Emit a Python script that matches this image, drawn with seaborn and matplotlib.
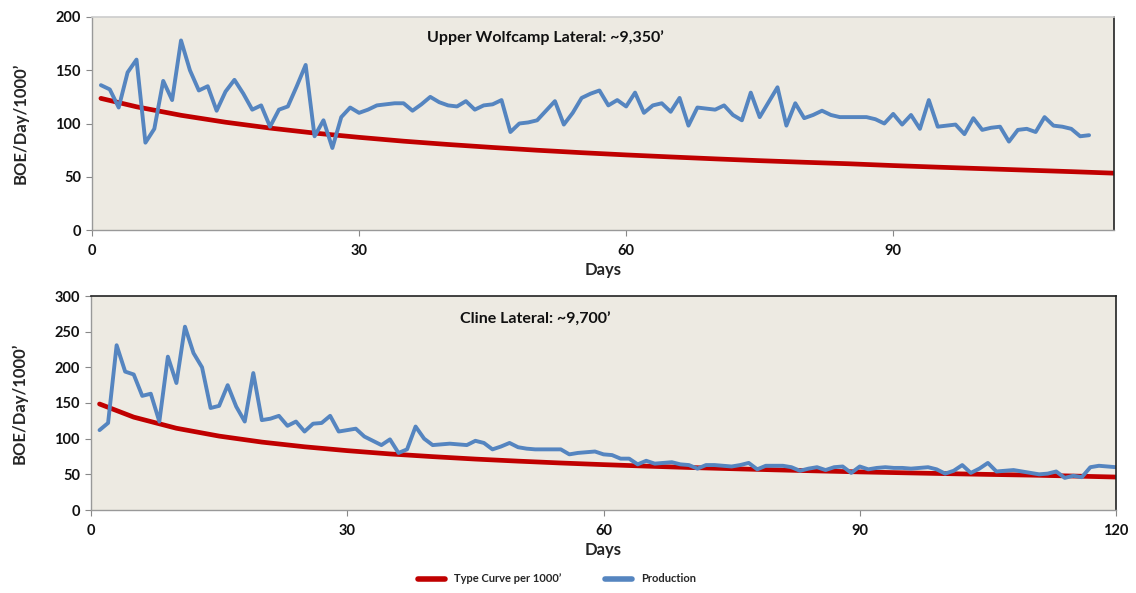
import numpy as np
import pandas as pd
import matplotlib
matplotlib.use("Agg")
import matplotlib.pyplot as plt
import seaborn as sns

# ---------------- data ----------------
top_title = "Upper Wolfcamp Lateral: ~9,350\u2019"
bot_title = "Cline Lateral: ~9,700\u2019"

top_prod = [136, 132, 115, 148, 160, 82, 95, 140, 122, 178,
            150, 131, 135, 112, 130, 141, 128, 113, 117, 97,
            113, 116, 135, 155, 88, 103, 77, 106, 115, 110,
            113, 117, 118, 119, 119, 112, 118, 125, 120, 117,
            116, 121, 113, 117, 118, 122, 92, 100, 101, 103,
            112, 121, 99, 110, 124, 128, 131, 117, 122, 116,
            129, 110, 117, 119, 111, 124, 98, 115, 114, 113,
            117, 108, 103, 129, 106, 120, 134, 98, 119, 105,
            108, 112, 108, 106, 106, 106, 106, 104, 100, 109,
            99, 108, 95, 122, 97, 98, 99, 90, 105, 94,
            96, 97, 83, 94, 95, 92, 106, 98, 97, 95,
            88, 89]
top_days = list(range(1, len(top_prod) + 1))

top_tc_days = [1, 5, 10, 15, 20, 25, 30, 35, 40, 45, 50, 55, 60, 65, 70,
               75, 80, 85, 90, 95, 100, 105, 110, 115]
top_tc = [123.6, 115.7, 107.7, 101.2, 95.7, 91.0, 87.0, 83.4, 80.3, 77.5,
          74.9, 72.6, 70.5, 68.6, 66.8, 65.1, 63.6, 62.2, 60.5, 59.0,
          57.6, 56.2, 54.8, 53.3]

bot_prod = [112, 122, 231, 194, 190, 160, 163, 124, 215, 178,
            257, 220, 200, 143, 146, 175, 145, 124, 192, 126,
            128, 132, 118, 124, 110, 121, 122, 132, 110, 112,
            114, 103, 97, 91, 99, 80, 85, 117, 100, 91,
            92, 93, 92, 91, 97, 94, 85, 89, 94, 88,
            86, 85, 85, 85, 85, 78, 80, 81, 82, 78,
            77, 72, 72, 64, 69, 65, 66, 67, 64, 63,
            58, 63, 63, 62, 61, 63, 66, 57, 62, 62,
            62, 60, 55, 58, 60, 56, 60, 61, 52, 61,
            57, 59, 60, 59, 59, 58, 59, 60, 57, 51,
            55, 63, 52, 58, 66, 54, 55, 56, 54, 52,
            50, 51, 54, 45, 48, 46, 60, 62, 61, 60]
bot_days = list(range(1, len(bot_prod) + 1))

bot_tc_days = [1, 5, 10, 15, 20, 25, 30, 35, 40, 45, 50, 55, 60, 65, 70,
               75, 80, 85, 90, 95, 100, 105, 110, 115, 120]
bot_tc = [148.6, 130.2, 114.6, 103.6, 95.2, 88.6, 83.2, 78.6, 74.8, 71.4,
          68.5, 65.9, 63.6, 61.5, 59.6, 57.9, 56.3, 54.8, 53.4, 52.2,
          51.0, 49.9, 48.9, 47.6, 46.2]

top_yticks = [0, 50, 100, 150, 200]
bot_yticks = [0, 50, 100, 150, 200, 250, 300]
top_xticks = [0, 30, 60, 90]
bot_xticks = [0, 30, 60, 90, 120]

legend_tc = "Type Curve per 1000\u2019"
legend_prod = "Production"
xlabel = "Days"
ylabel = "BOE/Day/1000\u2019"

# ---------------- style ----------------
sns.set_theme(style="ticks")
plt.rcParams["font.family"] = ["Lato", "DejaVu Sans"]

RED = "#C00000"
BLUE = "#5585C0"
FACE = "#EDEAE2"

fig = plt.figure(figsize=(11.36, 5.93), dpi=100)
fig.patch.set_facecolor("white")

W, H = 1136, 593


def make_ax(left, right, top, bottom):
    return fig.add_axes([left / W, 1 - bottom / H, (right - left) / W, (bottom - top) / H])


boxes = [(92, 1114, 17, 230), (91, 1116, 296, 510)]
ax1 = make_ax(*boxes[0])
ax2 = make_ax(*boxes[1])

panels = [
    (ax1, boxes[0], top_days, top_prod, top_tc_days, top_tc, top_title, (0, 114.8), (0, 200), top_xticks, top_yticks, 545, 38),
    (ax2, boxes[1], bot_days, bot_prod, bot_tc_days, bot_tc, bot_title, (0, 120), (0, 300), bot_xticks, bot_yticks, 535, 320),
]

for ax, box, d, p, td, tc, title, xl, yl, xt, yt, tx, ty in panels:
    l, r, t, b = box
    ax.set_facecolor(FACE)
    sns.lineplot(x=td, y=tc, ax=ax, color=RED, lw=3.4, label=legend_tc, legend=False,
                 solid_capstyle="round", solid_joinstyle="round")
    sns.lineplot(x=d, y=p, ax=ax, color=BLUE, lw=2.8, label=legend_prod, legend=False,
                 solid_capstyle="round", solid_joinstyle="round")
    ax.set_xlim(*xl)
    ax.set_ylim(*yl)
    ax.set_xticks(xt)
    ax.set_yticks(yt)
    ax.tick_params(axis="both", labelsize=10.5, length=4, width=0.8, color="#888888",
                   labelcolor="#111111")
    ax.tick_params(axis="x", pad=6)
    ax.tick_params(axis="y", pad=4)
    for lab in ax.get_xticklabels() + ax.get_yticklabels():
        lab.set_fontweight("bold")
    ax.set_xlabel(xlabel, fontsize=12, fontweight="bold", labelpad=3)
    ax.set_ylabel(ylabel, fontsize=12, fontweight="bold", labelpad=19)
    for s in ["left", "bottom"]:
        ax.spines[s].set_color("#999999")
        ax.spines[s].set_linewidth(1.0)
    for s in ["top", "right"]:
        ax.spines[s].set_color("#222222")
        ax.spines[s].set_linewidth(1.2)
    ax.text((tx - l) / (r - l), 1 - (ty - t) / (b - t),
            title, transform=ax.transAxes, ha="center", va="center",
            fontsize=11.5, fontweight="bold", color="#111111")

ax1.spines["top"].set_color("#cccccc")

handles, labels = ax2.get_legend_handles_labels()
leg = fig.legend(handles, labels, loc="center", bbox_to_anchor=(557 / W, 1 - 579 / H),
                 ncol=2, frameon=False, fontsize=8, handlelength=2.4, columnspacing=4,
                 handletextpad=0.8)
for t in leg.get_texts():
    t.set_fontweight("bold")
for ln in leg.get_lines():
    ln.set_linewidth(4)

fig.savefig("out.png", dpi=100, facecolor="white")
